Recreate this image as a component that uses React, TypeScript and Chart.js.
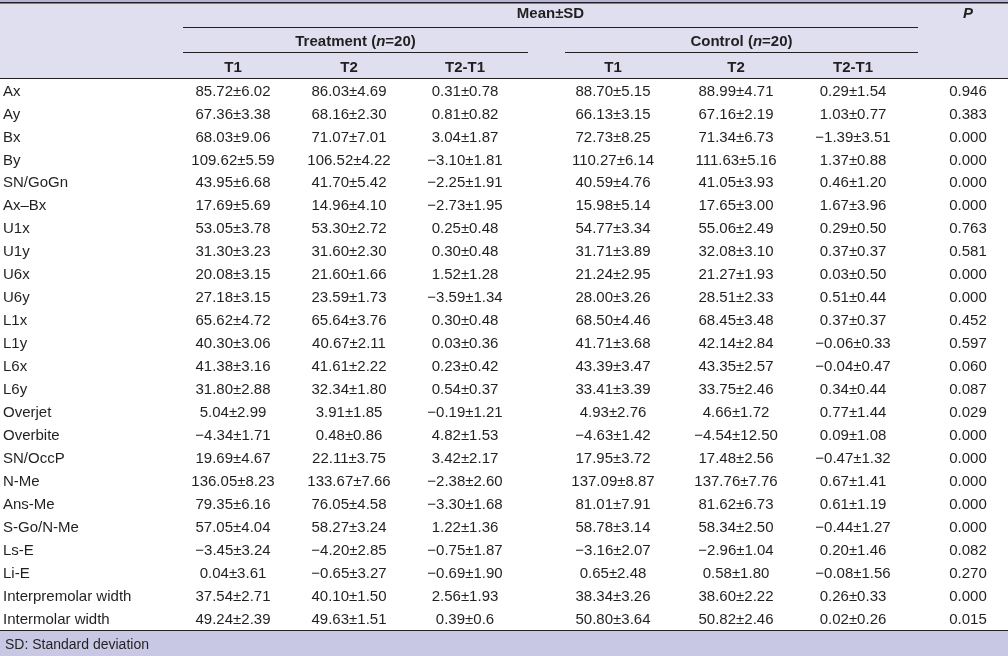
import React, { useEffect, useRef } from "react";
import { Chart, registerables } from "chart.js";

Chart.register(...registerables);

// ---------- data ----------
const ROW_LABELS = [
  "Ax", "Ay", "Bx", "By", "SN/GoGn", "Ax–Bx", "U1x", "U1y", "U6x", "U6y",
  "L1x", "L1y", "L6x", "L6y", "Overjet", "Overbite", "SN/OccP", "N-Me",
  "Ans-Me", "S-Go/N-Me", "Ls-E", "Li-E", "Interpremolar width", "Intermolar width",
];
const COLUMN_LABELS = ["T1", "T2", "T2-T1", "T1", "T2", "T2-T1"];
const TREATMENT_T1 = [
  "85.72±6.02", "67.36±3.38", "68.03±9.06", "109.62±5.59", "43.95±6.68", "17.69±5.69",
  "53.05±3.78", "31.30±3.23", "20.08±3.15", "27.18±3.15", "65.62±4.72", "40.30±3.06",
  "41.38±3.16", "31.80±2.88", "5.04±2.99", "−4.34±1.71", "19.69±4.67", "136.05±8.23",
  "79.35±6.16", "57.05±4.04", "−3.45±3.24", "0.04±3.61", "37.54±2.71", "49.24±2.39",
];
const TREATMENT_T2 = [
  "86.03±4.69", "68.16±2.30", "71.07±7.01", "106.52±4.22", "41.70±5.42", "14.96±4.10",
  "53.30±2.72", "31.60±2.30", "21.60±1.66", "23.59±1.73", "65.64±3.76", "40.67±2.11",
  "41.61±2.22", "32.34±1.80", "3.91±1.85", "0.48±0.86", "22.11±3.75", "133.67±7.66",
  "76.05±4.58", "58.27±3.24", "−4.20±2.85", "−0.65±3.27", "40.10±1.50", "49.63±1.51",
];
const TREATMENT_DIFF = [
  "0.31±0.78", "0.81±0.82", "3.04±1.87", "−3.10±1.81", "−2.25±1.91", "−2.73±1.95",
  "0.25±0.48", "0.30±0.48", "1.52±1.28", "−3.59±1.34", "0.30±0.48", "0.03±0.36",
  "0.23±0.42", "0.54±0.37", "−0.19±1.21", "4.82±1.53", "3.42±2.17", "−2.38±2.60",
  "−3.30±1.68", "1.22±1.36", "−0.75±1.87", "−0.69±1.90", "2.56±1.93", "0.39±0.6",
];
const CONTROL_T1 = [
  "88.70±5.15", "66.13±3.15", "72.73±8.25", "110.27±6.14", "40.59±4.76", "15.98±5.14",
  "54.77±3.34", "31.71±3.89", "21.24±2.95", "28.00±3.26", "68.50±4.46", "41.71±3.68",
  "43.39±3.47", "33.41±3.39", "4.93±2.76", "−4.63±1.42", "17.95±3.72", "137.09±8.87",
  "81.01±7.91", "58.78±3.14", "−3.16±2.07", "0.65±2.48", "38.34±3.26", "50.80±3.64",
];
const CONTROL_T2 = [
  "88.99±4.71", "67.16±2.19", "71.34±6.73", "111.63±5.16", "41.05±3.93", "17.65±3.00",
  "55.06±2.49", "32.08±3.10", "21.27±1.93", "28.51±2.33", "68.45±3.48", "42.14±2.84",
  "43.35±2.57", "33.75±2.46", "4.66±1.72", "−4.54±12.50", "17.48±2.56", "137.76±7.76",
  "81.62±6.73", "58.34±2.50", "−2.96±1.04", "0.58±1.80", "38.60±2.22", "50.82±2.46",
];
const CONTROL_DIFF = [
  "0.29±1.54", "1.03±0.77", "−1.39±3.51", "1.37±0.88", "0.46±1.20", "1.67±3.96",
  "0.29±0.50", "0.37±0.37", "0.03±0.50", "0.51±0.44", "0.37±0.37", "−0.06±0.33",
  "−0.04±0.47", "0.34±0.44", "0.77±1.44", "0.09±1.08", "−0.47±1.32", "0.67±1.41",
  "0.61±1.19", "−0.44±1.27", "0.20±1.46", "−0.08±1.56", "0.26±0.33", "0.02±0.26",
];
const P_VALUES = [
  "0.946", "0.383", "0.000", "0.000", "0.000", "0.000", "0.763", "0.581", "0.000", "0.000",
  "0.452", "0.597", "0.060", "0.087", "0.029", "0.000", "0.000", "0.000", "0.000", "0.000",
  "0.082", "0.270", "0.000", "0.015",
];
const FOOTNOTE = "SD: Standard deviation";

// ---------- layout / style ----------
const W = 1008;
const H = 656;
const FONT = "'Liberation Sans', Arial, sans-serif";
const FS = 15;
const TEXT = "#231f20";
const HEADER_BG = "#dfdff0";
const FOOTER_BG = "#c8c8e4";
const TOP_STRIP = "#b4b4d6";
const COL_X = [233, 349, 465, 613, 736, 853, 968]; // x-scale values of column centres
const LABEL_X = 3;
const GROUP_LEFT = 183;
const TREAT_RIGHT = 528;
const CONTROL_LEFT = 565;
const GROUP_RIGHT = 918;
const DY = 1.5; // text baseline nudge

const tablePlugin = {
  id: "tablePlugin",
  afterDraw(chart: any) {
    const ctx = chart.ctx as CanvasRenderingContext2D;
    const xs = chart.scales.x;
    const ys = chart.scales.y;
    const top = chart.chartArea.top; // y of first row
    const bottom = chart.chartArea.bottom; // y of last row
    const px = (v: number) => xs.getPixelForValue(v);
    ctx.save();

    // header background
    const headBottom = top - 12;
    ctx.fillStyle = HEADER_BG;
    ctx.fillRect(px(0), 0, px(W) - px(0), headBottom);
    ctx.fillStyle = TOP_STRIP;
    ctx.fillRect(px(0), 0, px(W) - px(0), 2);
    // footer background
    const footTop = bottom + 12;
    ctx.fillStyle = FOOTER_BG;
    ctx.fillRect(px(0), footTop, px(W) - px(0), H - footTop);

    const hline = (x1: number, x2: number, y: number, w: number) => {
      ctx.fillStyle = TEXT;
      ctx.fillRect(px(x1), y, px(x2) - px(x1), w);
    };
    hline(0, W, 2, 1.5);
    hline(GROUP_LEFT, GROUP_RIGHT, top - 63, 1);
    hline(GROUP_LEFT, TREAT_RIGHT, top - 38, 1);
    hline(CONTROL_LEFT, GROUP_RIGHT, top - 38, 1);
    hline(0, W, headBottom, 1);
    hline(0, W, footTop, 1);

    ctx.fillStyle = TEXT;
    ctx.textBaseline = "middle";

    // header texts
    const bold = `bold ${FS}px ${FONT}`;
    const boldItalic = `italic bold ${FS}px ${FONT}`;
    ctx.font = bold;
    ctx.textAlign = "center";
    ctx.fillText("Mean±SD", px((GROUP_LEFT + GROUP_RIGHT) / 2), top - 78 + DY);
    ctx.font = boldItalic;
    ctx.fillText("P", px(COL_X[6]), top - 78 + DY);

    const groupTitle = (name: string, cx: number, y: number) => {
      const parts: [string, string][] = [
        [name + " (", bold],
        ["n", boldItalic],
        ["=20)", bold],
      ];
      let total = 0;
      for (const [t, f] of parts) {
        ctx.font = f;
        total += ctx.measureText(t).width;
      }
      let x = cx - total / 2;
      ctx.textAlign = "left";
      for (const [t, f] of parts) {
        ctx.font = f;
        ctx.fillText(t, x, y);
        x += ctx.measureText(t).width;
      }
    };
    groupTitle("Treatment", px((GROUP_LEFT + TREAT_RIGHT) / 2), top - 50 + DY);
    groupTitle("Control", px((CONTROL_LEFT + GROUP_RIGHT) / 2), top - 50 + DY);

    ctx.font = bold;
    ctx.textAlign = "center";
    COLUMN_LABELS.forEach((l, i) => ctx.fillText(l, px(COL_X[i]), top - 24 + DY));

    // body
    const columns = [TREATMENT_T1, TREATMENT_T2, TREATMENT_DIFF, CONTROL_T1, CONTROL_T2, CONTROL_DIFF, P_VALUES];
    ctx.font = `${FS}px ${FONT}`;
    ROW_LABELS.forEach((label, r) => {
      const y = ys.getPixelForValue(r) + DY;
      ctx.textAlign = "left";
      ctx.fillText(label, px(LABEL_X), y);
      ctx.textAlign = "center";
      columns.forEach((col, c) => ctx.fillText(col[r], px(COL_X[c]), y));
    });

    // footnote
    ctx.textAlign = "left";
    ctx.font = `${FS - 1}px ${FONT}`;
    ctx.fillText(FOOTNOTE, px(LABEL_X + 2), footTop + 14 + DY);
    ctx.restore();
  },
};

export default function App() {
  const ref = useRef<HTMLCanvasElement | null>(null);
  useEffect(() => {
    document.body.style.margin = "0";
    if (!ref.current) return;
    const chart = new Chart(ref.current, {
      type: "scatter",
      data: { labels: ROW_LABELS, datasets: [{ data: [], pointRadius: 0 }] },
      options: {
        animation: false,
        responsive: false,
        devicePixelRatio: 1,
        layout: { padding: { top: 90, bottom: H - 618, left: 0, right: 0 } },
        plugins: { legend: { display: false }, tooltip: { enabled: false } },
        scales: {
          x: { type: "linear", min: 0, max: W, display: false },
          y: { type: "category", labels: ROW_LABELS, offset: false, display: false },
        },
      },
      plugins: [tablePlugin],
    } as any);
    return () => chart.destroy();
  }, []);
  return (
    <div style={{ width: W, height: H, background: "#fff" }}>
      <canvas ref={ref} width={W} height={H} style={{ display: "block" }} />
    </div>
  );
}
